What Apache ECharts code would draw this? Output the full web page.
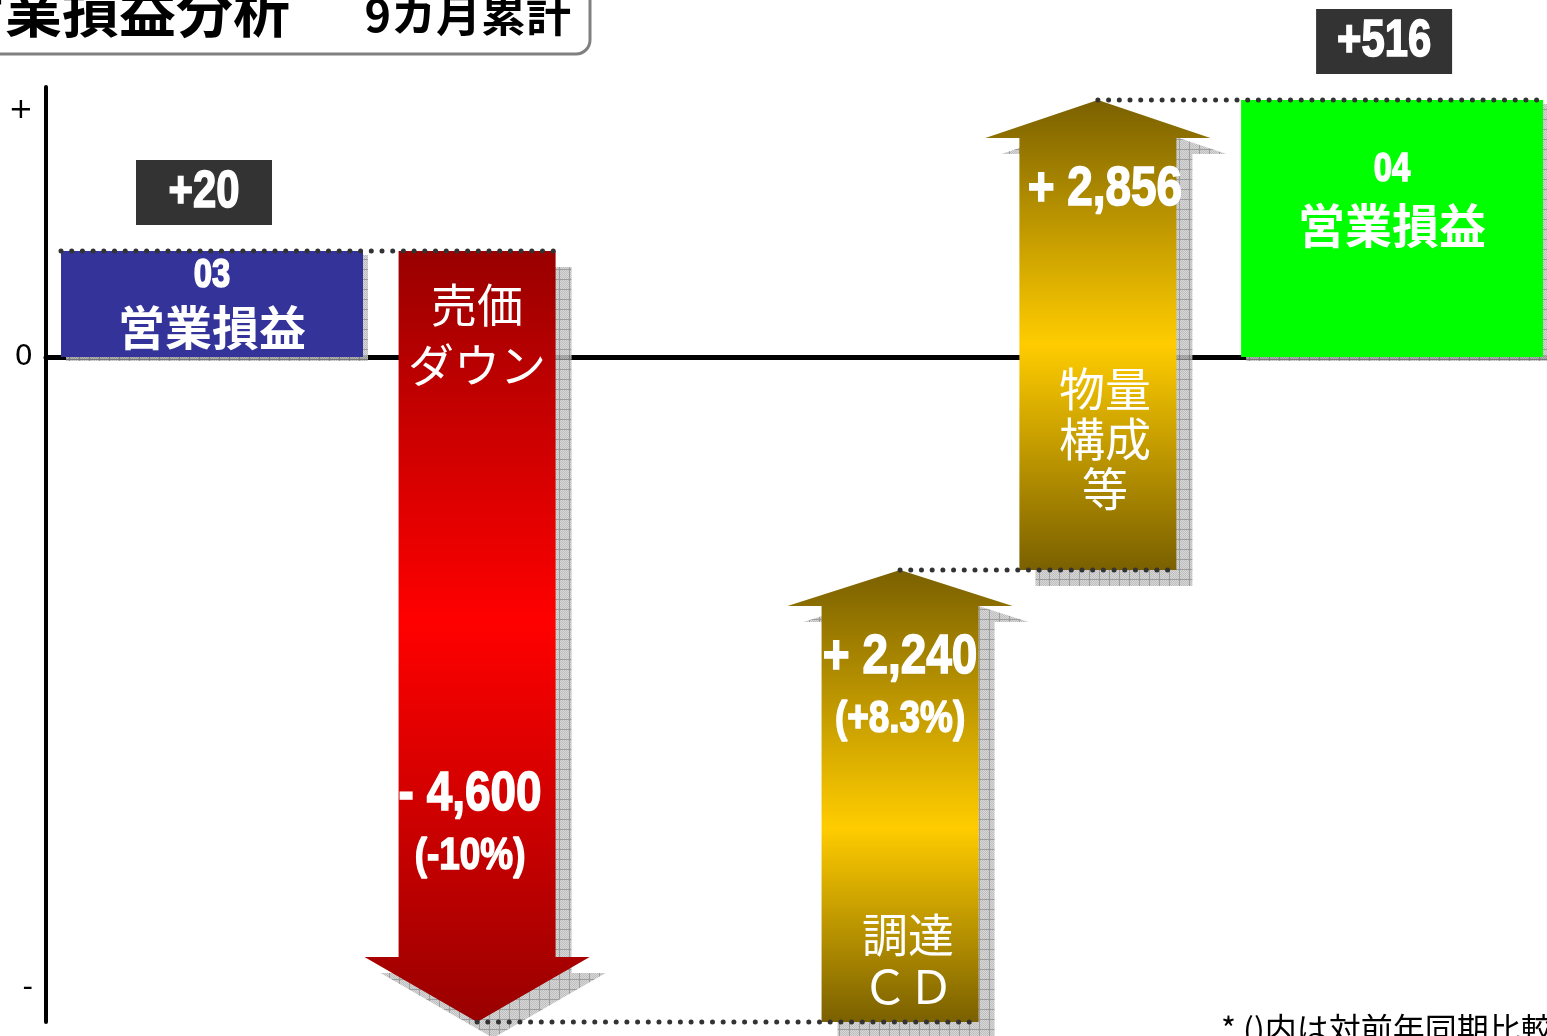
<!DOCTYPE html>
<html>
<head>
<meta charset="utf-8">
<title>営業損益分析 9カ月累計</title>
<script src="https://cdn.jsdelivr.net/npm/echarts@6/dist/echarts.min.js"></script>
<style>
html, body { margin: 0; padding: 0; background: #fff; }
#chart { width: 1547px; height: 1036px; }
</style>
</head>
<body>
<div id="chart"></div>
<script>
// waterfall steps, left to right
const categories = ['03\n営業損益', '売価\nダウン', '調達\nＣＤ', '物量\n構成\n等', '04\n営業損益'];
const kinds = ['total', 'delta', 'delta', 'delta', 'total'];
const values = [20, -4600, 2240, 2856, 516];
const ratioLabels = ['', '(-10%)', '(+8.3%)', '', ''];
// bar lengths as drawn on the slide (it is schematic, not to scale)
const drawnSteps = [106, -771, 452, 470];
// y axis only shows + / 0 / -
const yTickValues = [247, 0, -631];
const yTickLabels = ['+', '0', '-'];

// narrow bold digits: Liberation Sans squeezed horizontally
const NUM_FONT = "'Liberation Sans', Arial, sans-serif";
const NARROW = 0.82;
const JP_FONT = "'Noto Sans CJK JP', sans-serif";

function hatch() {
    const c = document.createElement('canvas');
    c.width = 10; c.height = 10;
    const ctx = c.getContext('2d');
    ctx.fillStyle = '#d0d0d0';
    ctx.fillRect(0, 0, 10, 10);
    ctx.fillStyle = '#b4b4b4';
    for (let y = 0; y < 10; y++) {
        for (let x = y % 2; x < 10; x += 2) ctx.fillRect(x, y, 1, 1);
    }
    ctx.fillStyle = '#8c8c8c';
    ctx.fillRect(9, 0, 1, 10);
    ctx.fillRect(0, 9, 10, 1);
    return c;
}
const shadeFill = { image: hatch(), repeat: 'repeat' };

const redFill = new echarts.graphic.LinearGradient(0, 0, 0, 1, [
    { offset: 0, color: '#990000' },
    { offset: 0.48, color: '#ff0000' },
    { offset: 1, color: '#990000' }
]);
function goldFill(mid) {
    return new echarts.graphic.LinearGradient(0, 0, 0, 1, [
        { offset: 0, color: '#7a6000' },
        { offset: mid, color: '#ffcc00' },
        { offset: 1, color: '#7a6000' }
    ]);
}

// look of each step: sizes and nudges in slot widths, label offsets in px
const looks = [
    { shape: 'rect', nudge: 0.053, width: 1.006, shade: 5, fill: '#333399', periodAt: 25, nameAt: 76 },
    { shape: 'arrow', nudge: -0.064, body: 0.523, head: 0.75, headLen: 65, shade: 16, fill: redFill,
      nameFrom: 'top', nameAt: 84, nameDx: 0, lineH: 60, valueAt: -227, ratioAt: -165, dx: -7 },
    { shape: 'arrow', nudge: 0.345, body: 0.523, head: 0.75, headLen: 36, shade: 16, fill: goldFill(0.57),
      nameFrom: 'base', nameAt: -61, nameDx: 8, lineH: 52, valueAt: 88, ratioAt: 150, dx: 0 },
    { shape: 'arrow', nudge: 0.004, body: 0.523, head: 0.75, headLen: 38, shade: 16, fill: goldFill(0.52),
      nameFrom: 'base', nameAt: -131, nameDx: 7, lineH: 50, valueAt: 90, ratioAt: 150, dx: 7 },
    { shape: 'rect', nudge: -0.016, width: 1.006, shade: 5, fill: '#00ff00', periodAt: 70, nameAt: 125 }
];

// [index, from, to, value]
let level = 0;
const seriesData = [];
for (let i = 0; i < categories.length; i++) {
    let from, to;
    if (i === 0) { from = 0; to = drawnSteps[0]; }
    else if (kinds[i] === 'total') { from = 0; to = level; }
    else { from = level; to = level + drawnSteps[i]; }
    level = to;
    seriesData.push([i, from, to, values[i]]);
}

function fmtDelta(v) {
    return (v < 0 ? '- ' : '+ ') + Math.abs(v).toLocaleString('en-US');
}
function fmtTotal(v) {
    return (v < 0 ? '-' : '+') + Math.abs(v).toLocaleString('en-US');
}

function geom(i, api) {
    const d = seriesData[i];
    const look = looks[i];
    const p0 = api.coord([i, d[1]]);
    const p1 = api.coord([i, d[2]]);
    const band = api.size([1, 0])[0];
    const g = { cx: p0[0] + band * look.nudge, yFrom: p0[1], yTo: p1[1], look: look };
    if (look.shape === 'rect') {
        const w = band * look.width;
        g.left = g.cx - w / 2;
        g.right = g.cx + w / 2;
        g.top = Math.min(p0[1], p1[1]);
        g.bottom = Math.max(p0[1], p1[1]);
        g.anchor = g.left;
    } else {
        g.bw = band * look.body / 2;
        g.hw = band * look.head / 2;
        g.left = g.cx - g.bw;
        g.right = g.cx + g.bw;
        g.anchor = g.cx;
    }
    return g;
}

function arrowPoints(g, dx, dy) {
    const dir = g.yTo > g.yFrom ? 1 : -1;
    const hb = g.yTo - dir * g.look.headLen;
    const cx = g.cx + dx;
    return [
        [cx - g.bw, g.yFrom + dy], [cx - g.bw, hb + dy], [cx - g.hw, hb + dy],
        [cx, g.yTo + dy],
        [cx + g.hw, hb + dy], [cx + g.bw, hb + dy], [cx + g.bw, g.yFrom + dy]
    ];
}

function txt(x, y, text, font, extra) {
    const style = { text: text, fill: '#fff', font: font, align: 'center', verticalAlign: 'middle' };
    if (extra) Object.assign(style, extra);
    return { type: 'text', x: x, y: y, z2: 20, style: style };
}
function num(x, y, text, size) {
    const t = txt(x, y, text, 'bold ' + size + 'px ' + NUM_FONT, { stroke: '#fff', lineWidth: 1.6 });
    t.scaleX = NARROW;
    return t;
}

function renderItem(params, api) {
    const i = params.dataIndex;
    const g = geom(i, api);
    const look = g.look;
    const children = [];
    const lines = categories[i].split('\n');

    if (look.shape === 'rect') {
        const h = g.bottom - g.top;
        children.push({ type: 'rect', z2: 1, shape: { x: g.left + look.shade, y: g.top + look.shade - 1, width: g.right - g.left, height: h },
            style: { fill: shadeFill, opacity: 0.85 } });
        children.push({ type: 'rect', z2: 2, shape: { x: g.left, y: g.top, width: g.right - g.left, height: h },
            style: { fill: look.fill } });
        children.push(num(g.cx, g.top + look.periodAt, lines[0], 40));
        children.push(txt(g.cx, g.top + look.nameAt, lines.slice(1).join('\n'), 'bold 47px ' + JP_FONT));
        // dark value box above
        const boxBottom = g.top - 26;
        children.push({ type: 'rect', z2: 5, shape: { x: g.cx - 76, y: boxBottom - 65, width: 136, height: 65 },
            style: { fill: '#333333' } });
        children.push(num(g.cx - 8, boxBottom - 32, fmtTotal(api.value(3)), 51));
    } else {
        children.push({ type: 'polygon', z2: 1, shape: { points: arrowPoints(g, look.shade, look.shade) },
            style: { fill: shadeFill, opacity: 0.85 } });
        children.push({ type: 'polygon', z2: 2, shape: { points: arrowPoints(g, 0, 0) },
            style: { fill: look.fill } });
        const nameY = look.nameFrom === 'top' ? Math.min(g.yFrom, g.yTo) + look.nameAt : g.yFrom + look.nameAt;
        children.push(txt(g.cx + look.nameDx, nameY, lines.join('\n'), 'normal 46px ' + JP_FONT, { lineHeight: look.lineH }));
        children.push(num(g.cx + look.dx, g.yTo + look.valueAt, fmtDelta(api.value(3)), 56));
        if (ratioLabels[i]) {
            children.push(num(g.cx + look.dx, g.yTo + look.ratioAt, ratioLabels[i], 45));
        }
    }

    // dotted connector at the level where the previous step ended
    if (i > 0) {
        const prev = geom(i - 1, api);
        const yy = api.coord([i, seriesData[i - 1][2]])[1];
        children.push({ type: 'line', z2: 10,
            shape: { x1: prev.anchor, y1: yy, x2: g.right, y2: yy },
            style: { stroke: '#333333', lineWidth: 5, lineDash: [0, 10.7], lineCap: 'round' } });
    }
    return { type: 'group', children: children };
}

const chart = echarts.init(document.getElementById('chart'));
chart.setOption({
    animation: false,
    backgroundColor: '#ffffff',
    grid: { left: 46, right: 0, top: 87, bottom: 14 },
    xAxis: {
        type: 'category',
        data: categories,
        axisLine: { onZero: true, lineStyle: { color: '#000', width: 5 } },
        axisTick: { show: false },
        axisLabel: { show: false },
        splitLine: { show: false }
    },
    yAxis: {
        type: 'value',
        min: -665,
        max: 270,
        axisLine: { show: true, lineStyle: { color: '#000', width: 4 } },
        axisTick: { show: false },
        splitLine: { show: false },
        axisLabel: {
            customValues: yTickValues,
            formatter: function (v) { return yTickLabels[yTickValues.indexOf(v)]; },
            fontSize: 29,
            fontFamily: 'DejaVu Sans',
            color: '#000',
            margin: 13
        }
    },
    graphic: [
        { type: 'rect', shape: { x: -20, y: -20, width: 610, height: 74, r: 14 },
          style: { fill: '#fff', stroke: '#808080', lineWidth: 3 } },
        { type: 'text', x: 290, y: 10,
          style: { text: '営業損益分析', font: 'bold 57px ' + JP_FONT, fill: '#000', align: 'right', verticalAlign: 'middle' } },
        { type: 'text', x: 571, y: 15,
          style: { text: '9カ月累計', font: 'bold 45px ' + JP_FONT, fill: '#000', align: 'right', verticalAlign: 'middle' } },
        { type: 'text', x: 1221, y: 1029,
          style: { text: '* ()内は対前年同期比較', font: '32px ' + JP_FONT, fill: '#000', align: 'left', verticalAlign: 'middle' } }
    ],
    series: [{
        type: 'custom',
        renderItem: renderItem,
        encode: { x: 0, y: [1, 2] },
        data: seriesData,
        clip: false
    }]
});
</script>
</body>
</html>
